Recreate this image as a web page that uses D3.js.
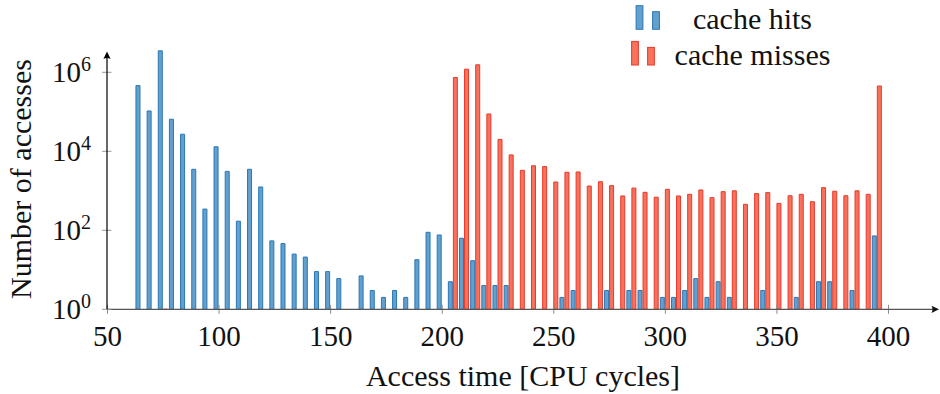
<!DOCTYPE html>
<html>
<head>
<meta charset="utf-8">
<script src="https://cdn.jsdelivr.net/npm/d3@7/dist/d3.min.js"></script>
<style>
  html, body { margin: 0; padding: 0; background: #fff; }
  svg { display: block; }
  svg text { font-family: "Liberation Serif", "DejaVu Serif", serif; fill: #111; }
</style>
</head>
<body>
<svg id="chart" width="940" height="394"></svg>
<script>
// Histogram of memory access latencies, split into cache hits and misses.
const bins = [65, 70, 75, 80, 85, 90, 95, 100, 105, 110, 115, 120, 125, 130, 135, 140,
  145, 150, 155, 160, 165, 170, 175, 180, 185, 190, 195, 200, 205, 210, 215, 220,
  225, 230, 235, 240, 245, 250, 255, 260, 265, 270, 275, 280, 285, 290, 295, 300,
  305, 310, 315, 320, 325, 330, 335, 340, 345, 350, 355, 360, 365, 370, 375, 380,
  385, 390, 395];

const hits = [460000, 105000, 3500000, 65000, 27000, 3500, 345, 13000, 3100, 170, 3500, 1250, 54, 46, 25, 21,
  9, 9, 6, 0, 7, 3, 2, 3, 2, 18, 89, 76, 5, 63, 17, 4,
  4, 4, 0, 0, 0, 0, 2, 3, 0, 0, 3, 0, 3, 3, 0, 2,
  2, 3, 6, 2, 5, 2, 0, 0, 3, 0, 0, 2, 0, 5, 5, 0,
  3, 0, 72];

const misses = [0, 0, 1, 0, 0, 0, 0, 0, 0, 0, 0, 0, 0, 0, 0, 0,
  0, 0, 0, 0, 0, 0, 0, 0, 0, 0, 0, 0, 740000, 1200000, 1550000, 88000,
  20000, 8100, 3300, 4300, 4100, 1670, 2950, 3000, 1320, 1700, 1350, 740, 1170, 915, 690, 1090,
  740, 815, 1050, 670, 950, 1000, 455, 850, 900, 480, 750, 815, 530, 1200, 975, 750,
  1000, 815, 450000];

const xTicks = [50, 100, 150, 200, 250, 300, 350, 400];
const yTicks = [1, 100, 10000, 1000000];
const yTickExp = ["0", "2", "4", "6"];

const seriesNames = ["cache hits", "cache misses"];
const fills = ["#62a0cd", "#f7715d"];
const strokes = ["#2a77b6", "#e63b2a"];

const FONT = '"Liberation Serif", "DejaVu Serif", serif';

const svg = d3.select("#chart");

const x = d3.scaleLinear().domain([50, 400]).range([107, 888]);
const y = d3.scaleLog().domain([1, 1e6]).range([309.3, 72.3]);

const binPx = x(55) - x(50);
const barW = binPx * 0.36;
const shift = binPx * 0.225;

// bars drawn as closed paths so that a zero-height bar still leaves a stroke
function barPath(cx, v) {
  const x0 = cx - barW / 2, x1 = cx + barW / 2;
  const y0 = y(1), y1 = y(v);
  return `M${x0},${y0}V${y1}H${x1}V${y0}Z`;
}

[hits, misses].forEach((vals, s) => {
  const off = s === 0 ? -shift : shift;
  svg.append("g")
    .selectAll("path")
    .data(bins.map((b, i) => ({ b, v: vals[i] })).filter(d => d.v >= 1))
    .join("path")
    .attr("d", d => barPath(x(d.b) + off, d.v))
    .attr("fill", fills[s])
    .attr("stroke", strokes[s])
    .attr("stroke-width", 1);
});

// x axis
const xAxis = d3.axisBottom(x).tickValues(xTicks).tickSize(0).tickPadding(0);
const gx = svg.append("g")
  .attr("transform", `translate(0,${y(1)})`)
  .call(xAxis)
  .attr("font-family", FONT)
  .attr("font-size", 29);
gx.select(".domain").remove();
gx.selectAll(".tick line")
  .attr("y1", -4.5).attr("y2", 4.5)
  .attr("stroke", "#8c8c8c").attr("stroke-width", 1);
gx.selectAll(".tick text")
  .attr("y", 36.7).attr("dy", null)
  .attr("fill", "#111");

svg.append("line")
  .attr("x1", x(50)).attr("x2", 934).attr("y1", y(1)).attr("y2", y(1))
  .attr("stroke", "#555").attr("stroke-width", 1.2);
svg.append("path")
  .attr("d", `M939,${y(1)} L931.5,${y(1) - 3.6} Q933.5,${y(1)} 931.5,${y(1) + 3.6} Z`)
  .attr("fill", "#111");

// y axis
const gy = svg.append("g").attr("transform", `translate(${x(50)},0)`);
gy.selectAll("line.tick")
  .data(yTicks)
  .join("line")
  .attr("class", "tick")
  .attr("x1", -5).attr("x2", 4.5)
  .attr("y1", d => y(d)).attr("y2", d => y(d))
  .attr("stroke", "#9a9a9a").attr("stroke-width", 1);

const ylab = gy.selectAll("text.ylab")
  .data(yTicks)
  .join("text")
  .attr("class", "ylab")
  .attr("text-anchor", "end")
  .attr("x", -16)
  .attr("y", d => y(d) + 9.5)
  .attr("font-size", 29);
ylab.append("tspan").text("10");
ylab.append("tspan")
  .attr("dy", -10.5)
  .attr("font-size", 20)
  .text((d, i) => yTickExp[i]);

svg.append("line")
  .attr("x1", x(50)).attr("x2", x(50)).attr("y1", y(1)).attr("y2", 57)
  .attr("stroke", "#000").attr("stroke-width", 1.2);
svg.append("path")
  .attr("d", `M${x(50)},51.5 L${x(50) - 3.6},59 Q${x(50)},57 ${x(50) + 3.6},59 Z`)
  .attr("fill", "#000");

// axis titles
svg.append("text")
  .attr("x", 523).attr("y", 386)
  .attr("text-anchor", "middle")
  .attr("font-size", 30)
  .text("Access time [CPU cycles]");

svg.append("text")
  .attr("transform", "translate(31,179) rotate(-90)")
  .attr("text-anchor", "middle")
  .attr("font-size", 30)
  .text("Number of accesses");

// legend
const legend = svg.append("g");
const legendRows = [
  { y: 29.3, bars: [[639.5, 23.6], [656, 17.6]] },
  { y: 65, bars: [[635, 23.6], [651, 17.6]] }
];
legendRows.forEach((row, s) => {
  row.bars.forEach(([cx, h]) => {
    legend.append("rect")
      .attr("x", cx - 3.4).attr("y", row.y - h)
      .attr("width", 6.8).attr("height", h)
      .attr("fill", fills[s]).attr("stroke", strokes[s]).attr("stroke-width", 1);
  });
  legend.append("text")
    .attr("x", 752.5).attr("y", row.y)
    .attr("text-anchor", "middle")
    .attr("font-size", 30)
    .text(seriesNames[s]);
});
</script>
</body>
</html>
